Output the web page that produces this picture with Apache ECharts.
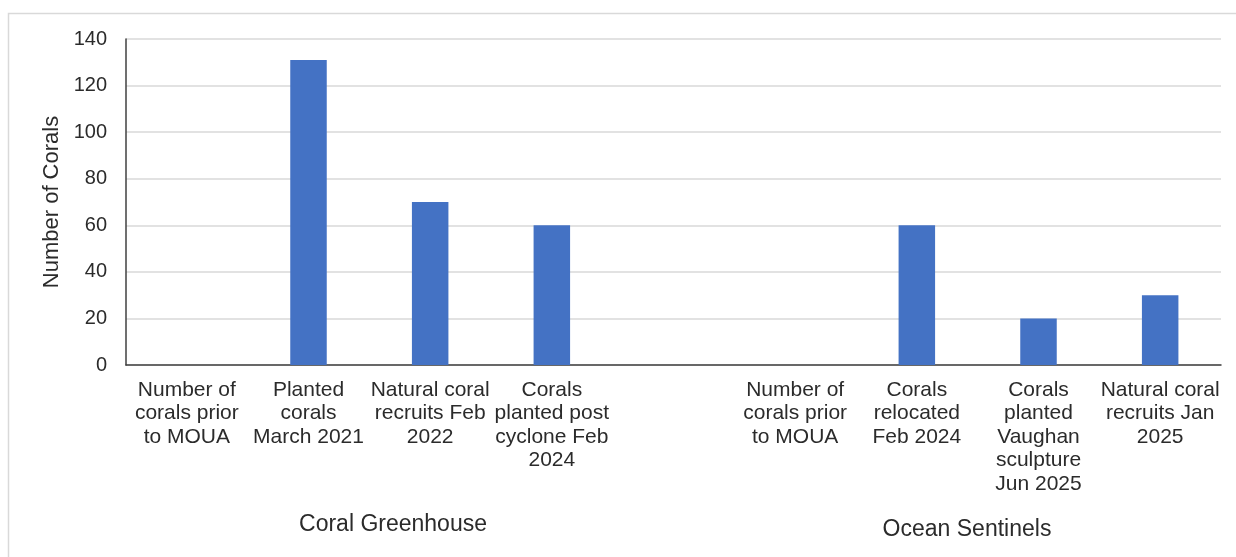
<!DOCTYPE html>
<html>
<head>
<meta charset="utf-8">
<script src="https://cdn.jsdelivr.net/npm/echarts@6/dist/echarts.min.js"></script>
<style>
html,body{margin:0;padding:0;background:#fff;}
#chart{width:1236px;height:557px;}
</style>
</head>
<body>
<div id="chart"></div>
<script>
const categories = [
  'Number of\ncorals prior\nto MOUA',
  'Planted\ncorals\nMarch 2021',
  'Natural coral\nrecruits Feb\n2022',
  'Corals\nplanted post\ncyclone Feb\n2024',
  '',
  'Number of\ncorals prior\nto MOUA',
  'Corals\nrelocated\nFeb 2024',
  'Corals\nplanted\nVaughan\nsculpture\nJun 2025',
  'Natural coral\nrecruits Jan\n2025'
];
const values = [0, 131, 70, 60, null, 0, 60, 20, 30];
const groups = ['Coral Greenhouse', 'Ocean Sentinels'];
const yTicks = [0, 20, 40, 60, 80, 100, 120, 140];

const FONT = '"Liberation Sans", Arial, sans-serif';
const TXT = '#2b2b2b';

const chart = echarts.init(document.getElementById('chart'), null, {renderer: 'canvas'});
chart.setOption({
  animation: false,
  backgroundColor: '#ffffff',
  grid: {left: 126, right: 15, top: 39, bottom: 192, containLabel: false},
  xAxis: {
    type: 'category',
    data: categories,
    axisLine: {show: true, lineStyle: {color: '#404040', width: 1.5}},
    axisTick: {show: false},
    axisLabel: {
      interval: 0, margin: 13, color: TXT, fontFamily: FONT, fontSize: 21, lineHeight: 23.5, align: 'center'
    },
    splitLine: {show: false}
  },
  yAxis: {
    type: 'value',
    min: yTicks[0], max: yTicks[yTicks.length - 1], interval: 20,
    name: 'Number of Corals',
    nameLocation: 'middle',
    nameRotate: 90,
    nameGap: 61,
    nameTextStyle: {color: TXT, fontFamily: FONT, fontSize: 22},
    axisLine: {show: true, lineStyle: {color: '#404040', width: 1.5}},
    axisTick: {show: false},
    axisLabel: {margin: 19, color: TXT, fontFamily: FONT, fontSize: 20},
    splitLine: {show: true, lineStyle: {color: '#d9d9d9', width: 1.5}}
  },
  series: [{
    type: 'bar',
    data: values,
    barWidth: '30%',
    itemStyle: {color: '#4472c4'}
  }],
  graphic: [
    {type: 'rect', shape: {x: 8.5, y: 13.5, width: 1260, height: 600}, style: {fill: 'none', stroke: '#d9d9d9', lineWidth: 1.5}, z: -1},
    {type: 'text', x: 393, y: 525, style: {text: groups[0], fill: TXT, font: '23px ' + FONT, textAlign: 'center', textVerticalAlign: 'middle'}},
    {type: 'text', x: 967, y: 530, style: {text: groups[1], fill: TXT, font: '23px ' + FONT, textAlign: 'center', textVerticalAlign: 'middle'}}
  ]
});
</script>
</body>
</html>
